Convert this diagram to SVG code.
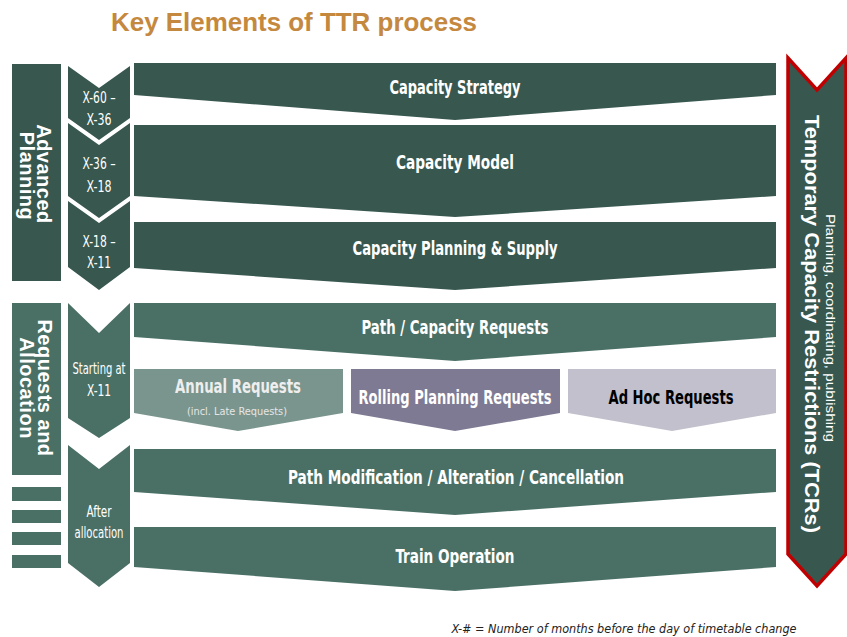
<svg xmlns="http://www.w3.org/2000/svg" width="847" height="637" viewBox="0 0 847 637">
<style>
.dark{fill:#37574F}
.mid{fill:#4A7066}
.lbl{font-family:"Liberation Sans Narrow","DejaVu Sans Condensed","Liberation Sans",sans-serif;font-stretch:condensed;font-weight:bold;font-size:19px;fill:#FFFFFF;text-anchor:middle}
.chv{font-family:"Liberation Sans Narrow","DejaVu Sans Condensed","Liberation Sans",sans-serif;font-stretch:condensed;font-size:15px;fill:#FFFFFF;text-anchor:middle}
.side{font-family:"Liberation Sans",Arial,sans-serif;font-weight:bold;font-size:20px;fill:#FFFFFF;text-anchor:middle;letter-spacing:0.5px}
</style>
<rect width="847" height="637" fill="#FFFFFF"/>
<text x="294" y="31" font-family="Liberation Sans, Arial, sans-serif" font-weight="bold" font-size="26" fill="#C4883E" text-anchor="middle" textLength="366" lengthAdjust="spacingAndGlyphs">Key Elements of TTR process</text>

<g id="phase-advanced-planning">
<rect class="dark" x="12" y="64" width="49" height="217"/>
<text class="side" transform="translate(37,174) rotate(90)">Advanced</text>
<text class="side" transform="translate(20,176) rotate(90)">Planning</text>
</g>
<g id="phase-requests-allocation">
<rect class="mid" x="12" y="303" width="49" height="172"/>
<text class="side" transform="translate(38,388) rotate(90)">Requests and</text>
<text class="side" transform="translate(20,388) rotate(90)">Allocation</text>
</g>
<g id="phase-bars">
<rect class="mid" x="12" y="487" width="49" height="14"/>
<rect class="mid" x="12" y="510" width="49" height="13"/>
<rect class="mid" x="12" y="532" width="49" height="13"/>
<rect class="mid" x="12" y="555" width="49" height="13"/>
</g>

<g id="chev-x60">
<polygon class="dark" points="68,66 99,88 130,66 130,118 99,140 68,118"/>
<text class="chv" x="99" y="103" textLength="33" lengthAdjust="spacingAndGlyphs">X-60 –</text>
<text class="chv" x="99" y="125" textLength="25" lengthAdjust="spacingAndGlyphs">X-36</text>
</g>
<g id="chev-x36">
<polygon class="dark" points="68,123 99,145 130,123 130,196 99,218 68,196"/>
<text class="chv" x="99" y="169" textLength="33" lengthAdjust="spacingAndGlyphs">X-36 –</text>
<text class="chv" x="99" y="192" textLength="25" lengthAdjust="spacingAndGlyphs">X-18</text>
</g>
<g id="chev-x18">
<polygon class="dark" points="68,201 99,223 130,201 130,267 99,290 68,267"/>
<text class="chv" x="99" y="247" textLength="33" lengthAdjust="spacingAndGlyphs">X-18 –</text>
<text class="chv" x="99" y="268" textLength="24" lengthAdjust="spacingAndGlyphs">X-11</text>
</g>
<g id="chev-start">
<polygon class="mid" points="68,303 99,333 130,303 130,418 99,438 68,418"/>
<text class="chv" x="99" y="374" textLength="53" lengthAdjust="spacingAndGlyphs">Starting at</text>
<text class="chv" x="99" y="396" textLength="24" lengthAdjust="spacingAndGlyphs">X-11</text>
</g>
<g id="chev-after">
<polygon class="mid" points="68,445 99,469 130,445 130,563 99,587 68,563"/>
<text class="chv" x="99" y="517" textLength="25" lengthAdjust="spacingAndGlyphs">After</text>
<text class="chv" x="99" y="538" textLength="49" lengthAdjust="spacingAndGlyphs">allocation</text>
</g>

<g id="capacity-strategy">
<polygon class="dark" points="134,63 776,63 776,95 455,120 134,95"/>
<text class="lbl" x="455" y="94" textLength="131" lengthAdjust="spacingAndGlyphs">Capacity Strategy</text>
</g>
<g id="capacity-model">
<polygon class="dark" points="134,125 776,125 776,196 455,217 134,196"/>
<text class="lbl" x="455" y="169" textLength="118" lengthAdjust="spacingAndGlyphs">Capacity Model</text>
</g>
<g id="capacity-planning">
<polygon class="dark" points="134,222 776,222 776,268 455,290 134,268"/>
<text class="lbl" x="455" y="255" textLength="205" lengthAdjust="spacingAndGlyphs">Capacity Planning &amp; Supply</text>
</g>
<g id="path-requests">
<polygon class="mid" points="134,303 776,303 776,337 455,361 134,337"/>
<text class="lbl" x="455" y="334" textLength="187" lengthAdjust="spacingAndGlyphs">Path / Capacity Requests</text>
</g>
<g id="annual-requests">
<polygon fill="#7A958D" points="134,369 343,369 343,413 238,431 134,413"/>
<text class="lbl" x="238" y="393" style="fill:#EEEEEE" textLength="126" lengthAdjust="spacingAndGlyphs">Annual Requests</text>
<text x="237" y="415" font-family="Liberation Sans Narrow, DejaVu Sans Condensed, Liberation Sans, sans-serif" font-size="11" fill="#E6E6E6" text-anchor="middle" textLength="100" lengthAdjust="spacingAndGlyphs">(incl. Late Requests)</text>
</g>
<g id="rolling-requests">
<polygon fill="#7F7A93" points="351,369 560,369 560,413 455,431 351,413"/>
<text class="lbl" x="455" y="404" textLength="193" lengthAdjust="spacingAndGlyphs">Rolling Planning Requests</text>
</g>
<g id="adhoc-requests">
<polygon fill="#C1C0CC" points="568,369 776,369 776,413 672,431 568,413"/>
<text class="lbl" x="671" y="404" style="fill:#000000" textLength="125" lengthAdjust="spacingAndGlyphs">Ad Hoc Requests</text>
</g>
<g id="path-modification">
<polygon class="mid" points="134,449 776,449 776,492 455,515 134,492"/>
<text class="lbl" x="456" y="484" textLength="336" lengthAdjust="spacingAndGlyphs">Path Modification / Alteration / Cancellation</text>
</g>
<g id="train-operation">
<polygon class="mid" points="134,527 776,527 776,567 455,591 134,567"/>
<text class="lbl" x="455" y="563" textLength="119" lengthAdjust="spacingAndGlyphs">Train Operation</text>
</g>

<g id="tcr">
<polygon fill="#37574F" stroke="#C00000" stroke-width="3.5" stroke-linejoin="miter" points="788,58 817,90 846,58 846,554 817,586 788,554"/>
<text transform="translate(805,324) rotate(90)" font-family="Liberation Sans, Arial, sans-serif" font-weight="bold" font-size="20" fill="#FFFFFF" text-anchor="middle" textLength="418" lengthAdjust="spacingAndGlyphs">Temporary Capacity Restrictions (TCRs)</text>
<text transform="translate(826,328) rotate(90)" font-family="Liberation Sans, Arial, sans-serif" font-size="12" fill="#FFFFFF" text-anchor="middle" textLength="228" lengthAdjust="spacingAndGlyphs">Planning, coordinating, publishing</text>
</g>

<g id="connectors"></g>

<text x="624" y="633" font-family="Liberation Sans Narrow, DejaVu Sans Condensed, Liberation Sans, sans-serif" font-style="italic" font-size="13" fill="#222222" text-anchor="middle" textLength="345" lengthAdjust="spacingAndGlyphs">X-# = Number of months before the day of timetable change</text>
</svg>
